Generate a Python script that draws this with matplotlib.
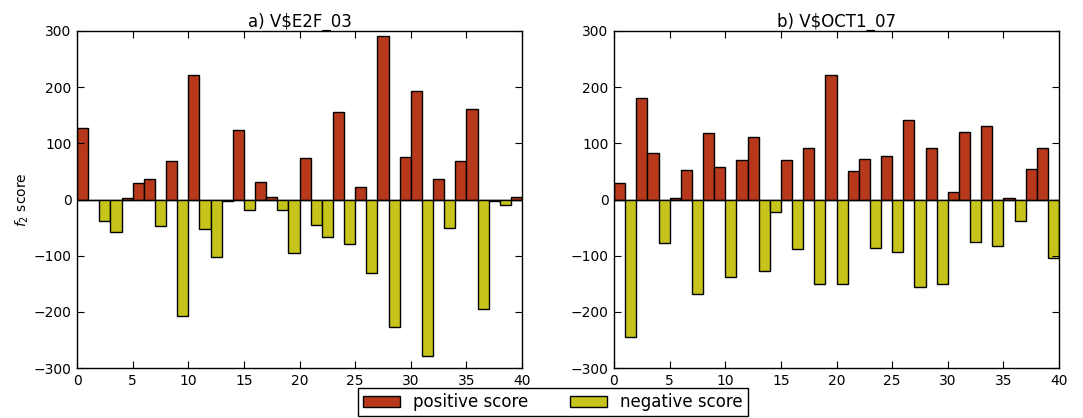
import matplotlib
matplotlib.use("Agg")
import matplotlib.pyplot as plt
import numpy as np

positions = list(range(40))

titles = [r"a) V\$E2F_03", r"b) V\$OCT1_07"]

e2f_pos = [128, 0, 0, 0, 3, 30, 37, 0, 69, 0, 221, 0, 0, 0, 123, 0, 32, 4, 0, 0,
           73, 0, 0, 155, 0, 23, 0, 291, 0, 76, 193, 0, 37, 0, 68, 162, 0, 0, 0, 5]
e2f_neg = [0, 0, -39, -57, 0, 0, 0, -48, 0, -208, 0, -53, -103, -2, 0, -18, 0, 0, -18, -95,
           0, -45, -66, 0, -80, 0, -130, 0, -227, 0, 0, -279, 0, -50, 0, 0, -195, -3, -10, 0]

oct1_pos = [30, 0, 180, 82, 0, 2, 52, 0, 118, 57, 0, 70, 111, 0, 0, 70, 0, 91, 0, 221,
            0, 50, 72, 0, 78, 0, 142, 0, 91, 0, 14, 121, 0, 130, 0, 2, 0, 55, 92, 0]
oct1_neg = [0, -244, 0, 0, -78, 0, 0, -169, 0, 0, -138, 0, 0, -128, -23, 0, -89, 0, -151, 0,
            -151, 0, 0, -86, 0, -93, 0, -155, 0, -150, 0, 0, -75, 0, -82, 0, -39, 0, 0, -105]

x_ticks = [0, 5, 10, 15, 20, 25, 30, 35, 40]
y_ticks = [-300, -200, -100, 0, 100, 200, 300]

pos_color = "#b8381b"
neg_color = "#c6c41a"

fig = plt.figure(figsize=(10.83, 4.18), dpi=100)
axes = [fig.add_axes([77/1083, 1-368/418, 445/1083, 337/418]),
        fig.add_axes([614/1083, 1-368/418, 445/1083, 337/418])]

data = [(e2f_pos, e2f_neg), (oct1_pos, oct1_neg)]
handles = None
for ax, (p, n), t in zip(axes, data, titles):
    hp = ax.bar(positions, p, width=1, align="edge", color=pos_color,
                edgecolor="black", linewidth=1, label="positive score")
    hn = ax.bar(positions, n, width=1, align="edge", color=neg_color,
                edgecolor="black", linewidth=1, label="negative score")
    handles = [hp, hn]
    ax.set_xlim(0, 40)
    ax.set_ylim(-300, 300)
    ax.set_xticks(x_ticks)
    ax.set_yticks(y_ticks)
    ax.tick_params(direction="in", top=True, right=True, labelsize=10, length=5,
                   pad=4)
    ax.set_title(t, fontsize=12, pad=3)
    for s in ax.spines.values():
        s.set_linewidth(1)

axes[0].set_ylabel(r"$f_2$ score", fontsize=10, labelpad=2)

fig.legend(handles, ["positive score", "negative score"], loc="lower center",
           ncol=2, bbox_to_anchor=(553/1083, 0.0), fontsize=12, fancybox=False,
           edgecolor="black", framealpha=1, borderpad=0.3, handlelength=2.2,
           columnspacing=2.5, borderaxespad=0.1)

fig.savefig("out.png", dpi=100)
